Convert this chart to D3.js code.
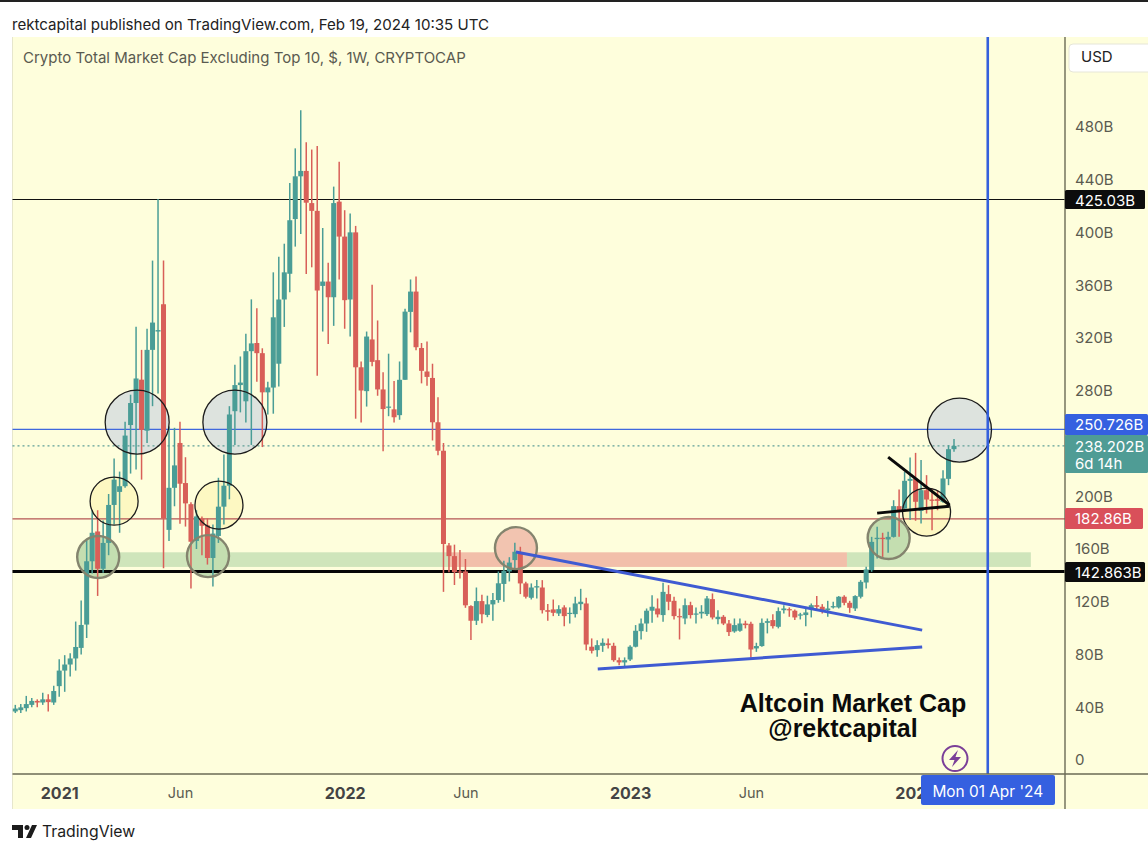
<!DOCTYPE html>
<html><head><meta charset="utf-8">
<script src="https://cdn.jsdelivr.net/npm/d3@7"></script>
<style>html,body{margin:0;padding:0;background:#fff}svg{display:block}text{font-family:Inter,"Noto Sans",sans-serif}</style>
</head><body><div id="c"></div>
<script>
const open=[36.8,37.8,39.3,41.8,44.8,43.6,46,43.6,56,67.8,72.4,77,85,102.7,150.7,173.3,145,164.6,193.4,203.3,207.6,254,270.7,288.4,249.7,311,324.9,345.6,174.5,206.4,240.4,210,194,166.1,183.2,177.9,153.2,169.9,192.1,208,264.5,284.3,272,310,316.2,308.5,278.8,
282.4,300.5,349.2,368.7,410.2,442.6,446.7,422.3,416.4,359.5,362.8,350.9,423.4,396.9,349.2,400.1,297.8,279.7,318.9,303.2,281,267.5,265.9,261.5,288.3,339.8,355.2,312.4,294.6,289.7,256.1,234.5,162.7,154.6,143,143,116.7,105.6,120.5,110,118,121.3,133.5,143,
151.6,157.1,133.9,123,130.8,130.8,113.6,114.2,111.1,115.7,111.1,110.6,118.2,118.7,85.9,83.3,86.6,88.4,86.6,75.7,74,76.2,85.9,97.7,103.5,113.2,114.9,109.9,125.8,120.7,109.1,107.3,117.4,110.4,111.1,110.6,122,106.8,108.6,103.5,97.5,98,103.5,103.3,84.6,86.4,104,106.1,101,113.6,114.4,113.2,109.6,109.9,114.9,117.4,116.2,113.6,115.7,115.7,123.8,119.2,114.9,123.8,134.6,
144,167.5,168.5,167.2,169.2,192.5,190.7,211.7,213.2,188.9,204.6,197.5,197.8,195.8,213.2,235.7];
const high=[41.8,42.4,48.6,47,46,51,49.8,56.3,76.4,79.5,81,105,121,167.7,189.4,189.4,181.6,201.7,228.6,218.7,256.5,277,328.6,311,327,378.7,425.4,378.7,252.8,251.9,256.5,229.6,195.5,189.4,184.7,183.2,178.5,214,231.7,268.3,299.8,306,323.3,349.3,342.5,312.2,286.8,
369.8,381.7,391.5,437.5,463.8,492.7,468.4,462.9,465.6,403.4,377.1,434.8,453.7,416.9,414.5,405,302.2,324.9,360.3,333.3,294,308.1,287.3,302.2,342.2,364.4,366.6,316.2,317.3,300.5,275,240.4,164.6,163.3,159.2,152.4,117.3,130.8,125.4,124.6,126.7,143,151.1,153.8,
164.7,161.7,135.1,133.9,136.4,136.4,118.2,121.7,117.4,117.4,115.7,123.8,129.8,123,92.2,90.9,92.2,92.2,88.9,77.8,77.8,87.1,102.3,107.3,114.9,125,122.5,134.4,132.6,123.8,114.9,122.5,120,115.7,117.4,124.3,126.3,113.6,109.9,106.1,107.3,107.3,105.6,104.8,88.9,107.3,107.3,110.6,115.7,117.4,115.7,114.2,111.6,116.2,118.7,124.3,118.2,120.7,120,124.3,125,120.7,125,136.4,146.5,
169.2,176.8,172.3,173,197,205.1,218.5,229.4,232.9,227.4,216,205.9,204.6,219.8,238.7,243.5];
const low=[35.6,35.6,36.8,40,40,41.8,36.8,41.8,48,51.7,63.4,67.8,80,92.5,141.4,124.4,142,155.3,178.5,172.3,206.4,217.2,220.3,212.6,240.4,268.3,278,145.4,166.1,192.4,179.1,177,130,160,155.3,148.2,131.5,164.6,178.5,197.7,238.9,263.6,255.9,238.9,286.8,237.3,262,
262.6,283.2,328.4,354.7,389.3,398.8,368.5,373.6,291.3,324.9,315.4,329.2,364.4,327,321.1,258.8,255.9,268,298.6,276.2,234.2,260.7,255.9,258,288.3,324.3,310.8,285.6,283.7,242.3,231,127.5,142.4,132.7,137.6,115.4,91,102.4,103.7,108.3,105.6,119.2,120,135.4,
145.2,125.8,122.5,121.7,122.5,111.1,105.6,109.1,109.1,101.5,103.5,108.1,113.6,83.3,80.8,78.3,82,84.6,74.5,71.9,71.2,75,85.4,91.4,97.2,104,108.1,104.8,113.6,106.6,91.4,103,107.3,103.5,107.3,109.1,106.6,103,102.3,94,96.5,97.2,99.8,77.5,82,85.9,96,99.8,99.8,111.1,108.6,106.1,106.6,101.5,108.1,113.6,111.1,108.6,114.9,114.9,117.4,111.6,112.9,122.5,130,
142.7,152.8,154,157.1,168.7,169.2,188.2,181.9,181.4,179.3,186.9,174.3,189.4,195,208.4,233.7];
const close=[39,39.9,42.4,44.8,43.6,46,43.9,52.3,67.8,72.4,77,85.7,102.4,150.7,172.3,145,164.6,193.4,212.6,207.6,246,270.7,289.3,250.3,311,331.7,326,183.2,206.4,223.4,209.5,194.6,165.5,184.7,177.6,153.2,171.7,192.1,208,262,284.3,286.2,310,315.9,308.5,278.8,282.5,
335.7,349.2,369.8,409.3,442.6,446.7,422.6,416.4,356,362.8,350.9,422.3,396.9,348.7,400.1,297.8,280.2,321.1,301.9,281,266.1,268,259.9,288.3,340,355.2,313,295.1,290.5,256.1,234.5,163.8,154.6,142.4,142.4,117.3,105.6,120.5,110.5,118,121.3,134,143.5,149.7,
157.9,133.9,123.8,130.8,131.8,113.6,112.4,111.6,114.4,109.1,111.6,118.7,120,87.6,82.8,87.1,88.9,87.1,75.7,74,75.7,85.9,98,103.5,113.2,116.2,110.4,127.5,120,109.1,108.6,117.4,109.9,111.1,112.4,122.5,108.1,108.6,103.5,97,102.3,103.5,102.3,83.8,86.4,104,105.3,101.5,112.9,114.9,113.6,108.1,110.4,111.9,117.4,116.2,112.9,114.9,116.7,123.8,119.2,115.4,124.3,135.1,144.5,
165.4,168.5,167.5,169.2,192.5,188.9,211.7,213.2,195.8,204.6,197.5,196.5,196.5,213.5,235.7,238.2];

const priceTicks=[0,40,80,120,160,200,280,320,360,400,440,480];
const timeTickWeeks=[8,30,60,82,112,134,164];
const timeTickLabels=["2021","Jun","2022","Jun","2023","Jun","2024"];
const boldTicks=["2021","2022","2023","2024"];
const markerWeek=177.15, markerLabel="Mon 01 Apr '24";
const levels=[{p:425.03,label:"425.03B"},{p:142.863,label:"142.863B"},{p:250.726,label:"250.726B"},{p:182.86,label:"182.86B"}];
const lastPrice=238.202;
const zoneGreen1=[15,79,146.4,157.5], zoneRed=[79,151.5,146.4,157.5], zoneGreen2=[151.5,185,146.4,157.5];
const trendBlue=[[91.2,157.7,165.2,98.5],[106.1,69,165.2,85.7]];
const trendBlack=[[159,229.7,170.2,193.3],[157,187.2,170.2,192.5]];
const bigCircles=[[22.2,256.2],[40,256.2],[172,250.1]];
const yellowCircles=[[18,196.3],[37.1,193.3],[166,188]];
const greenCircles=[[15.1,153.9],[35.1,154.6],[159.1,168.3]];
const redCircles=[[91.2,160.7]];

const W=1148,H=847,L=12.5,T=37,R=1065,B=774,BB=809;
const UP="#4a9d96",DN="#d85f58",BG="#fefedc";
const x=d3.scaleLinear().domain([0,171]).range([15.3,954]);
const y=d3.scaleLinear().domain([0,480]).range([760,127]);
const svg=d3.select("#c").append("svg").attr("width",W).attr("height",H);

svg.append("rect").attr("x",0).attr("y",0).attr("width",W).attr("height",2).attr("fill","#222");
svg.append("text").attr("x",12).attr("y",30).attr("font-size",15.1).attr("fill","#222").text("rektcapital published on TradingView.com, Feb 19, 2024 10:35 UTC");
svg.append("rect").attr("x",L).attr("y",T).attr("width",W-L).attr("height",BB-T).attr("fill",BG);
svg.append("line").attr("x1",L).attr("x2",L).attr("y1",T).attr("y2",BB).attr("stroke","#e6e6cc");
svg.append("text").attr("x",23).attr("y",63).attr("font-size",15).attr("fill","#5a5a50").text("Crypto Total Market Cap Excluding Top 10, $, 1W, CRYPTOCAP");

const zone=(z,c)=>svg.append("rect").attr("x",x(z[0])).attr("width",x(z[1])-x(z[0])).attr("y",y(z[3])).attr("height",y(z[2])-y(z[3])).attr("fill",c);
zone(zoneGreen1,"#cfe5bb");zone(zoneRed,"#f2bfaa");zone(zoneGreen2,"#cfe5bb");

const circFill=(data,r,f)=>svg.append("g").selectAll("circle").data(data).join("circle").attr("cx",d=>x(d[0])).attr("cy",d=>y(d[1])).attr("r",r).attr("fill",f);
circFill(bigCircles,32,"#dde3de");
circFill(yellowCircles,24,"#fdf8c2");
circFill(greenCircles,21,"#c4deb0");
circFill(redCircles,21,"#f2c4b0");

const lv=svg.append("g");
const hline=(p,c,w,dash)=>lv.append("line").attr("x1",L).attr("x2",R).attr("y1",y(p)).attr("y2",y(p)).attr("stroke",c).attr("stroke-width",w).attr("stroke-dasharray",dash||null);
hline(425.03,"#111",1.2);hline(250.726,"#3f68dd",1.3);hline(182.86,"#b55555",1.2);hline(142.863,"#050505",3);hline(lastPrice,"#5f9f98",1.2,"2 3");

const idx=d3.range(close.length);
const g=svg.append("g");
g.selectAll("line").data(idx).join("line").attr("x1",i=>x(i)).attr("x2",i=>x(i)).attr("y1",i=>y(high[i])).attr("y2",i=>y(low[i]))
 .attr("stroke",i=>close[i]>=open[i]?UP:DN).attr("stroke-width",1.5);
g.selectAll("rect").data(idx).join("rect").attr("x",i=>x(i)-2.5).attr("width",5)
 .attr("y",i=>y(Math.max(open[i],close[i]))).attr("height",i=>Math.max(1.2,Math.abs(y(open[i])-y(close[i]))))
 .attr("fill",i=>close[i]>=open[i]?UP:DN);

const circStroke=(data,r,s,w)=>svg.append("g").selectAll("circle").data(data).join("circle").attr("cx",d=>x(d[0])).attr("cy",d=>y(d[1])).attr("r",r).attr("fill","none").attr("stroke",s).attr("stroke-width",w);
circStroke(bigCircles,32,"#1c1c1c",1.3);
circStroke(yellowCircles,24,"#1c1c1c",1.3);
circStroke(greenCircles,21,"#84846e",2.4);
circStroke(redCircles,21,"#84846e",2.4);

const seg=(data,c,w)=>svg.append("g").selectAll("line").data(data).join("line").attr("x1",d=>x(d[0])).attr("y1",d=>y(d[1])).attr("x2",d=>x(d[2])).attr("y2",d=>y(d[3])).attr("stroke",c).attr("stroke-width",w);
seg(trendBlue,"#3f5bd2",3);
seg(trendBlack,"#0a0a0a",3);

svg.append("line").attr("x1",x(markerWeek)).attr("x2",x(markerWeek)).attr("y1",T).attr("y2",B).attr("stroke","#3560dc").attr("stroke-width",2.6);

svg.append("text").attr("x",853).attr("y",712).attr("text-anchor","middle").attr("font-size",25).attr("font-weight",700).attr("fill","#0b0b0b").style("font-family","'Liberation Sans',sans-serif").text("Altcoin Market Cap");
svg.append("text").attr("x",843).attr("y",737).attr("text-anchor","middle").attr("font-size",25).attr("font-weight",700).attr("fill","#0b0b0b").style("font-family","'Liberation Sans',sans-serif").text("@rektcapital");

svg.append("circle").attr("cx",955).attr("cy",758.5).attr("r",12.5).attr("fill","none").attr("stroke","#7b3f98").attr("stroke-width",2);
svg.append("path").attr("d","M958 750 L949 760 L954.5 760 L952 767 L961 757 L955.5 757 Z").attr("fill","#7b3f98");

svg.append("line").attr("x1",L).attr("x2",W).attr("y1",B).attr("y2",B).attr("stroke","#6a6a55").attr("stroke-width",1.4);
svg.append("line").attr("x1",R).attr("x2",R).attr("y1",T).attr("y2",BB).attr("stroke","#6a6a55").attr("stroke-width",1.4);

const yAxis=d3.axisRight(y).tickValues(priceTicks).tickSize(0).tickPadding(0).tickFormat(d=>d===0?"0":d+"B");
const ya=svg.append("g").attr("transform",`translate(1075,0)`).call(yAxis);
ya.select(".domain").remove();
ya.selectAll("text").attr("font-size",15).attr("fill","#5b5b50").style("font-family","Inter,sans-serif");

const xAxis=d3.axisBottom(x).tickValues(timeTickWeeks).tickSize(0).tickPadding(0).tickFormat((d,i)=>timeTickLabels[i]);
const xa=svg.append("g").attr("transform",`translate(0,788)`).call(xAxis);
xa.select(".domain").remove();
xa.selectAll("text").attr("font-size",(d,i)=>boldTicks.includes(timeTickLabels[i])?16:14.5).attr("fill",(d,i)=>boldTicks.includes(timeTickLabels[i])?"#444":"#5b5b50").attr("font-weight",(d,i)=>boldTicks.includes(timeTickLabels[i])?700:400).style("font-family","Inter,sans-serif");

svg.append("rect").attr("x",1069).attr("y",44).attr("width",90).attr("height",28).attr("rx",4).attr("fill","#fff").attr("stroke","#e6e6d8");
svg.append("text").attr("x",1081).attr("y",62).attr("font-size",15).attr("fill","#222").text("USD");

const tag=(yy,h,c,right,t,ty)=>{svg.append("rect").attr("x",R).attr("y",yy).attr("width",right-R).attr("height",h).attr("rx",1.5).attr("fill",c);
 [].concat(t).forEach((s,k)=>svg.append("text").attr("x",1075).attr("y",[].concat(ty)[k]).attr("dominant-baseline","central").attr("font-size",15).attr("fill","#fff").text(s));};
tag(190,19,"#0c0c0c",1145,levels[0].label,200);
tag(414,21,"#3560e0",1148,levels[2].label,424);
tag(435,38,"#4f9c95",1148,[lastPrice.toFixed(3)+"B","6d 14h"],[446,463]);
tag(508,21,"#d9505a",1143,levels[3].label,518);
tag(562,20,"#0c0c0c",1145,levels[1].label,572);

svg.append("rect").attr("x",921).attr("y",775).attr("width",134).attr("height",30).attr("rx",2).attr("fill","#3560e0");
svg.append("text").attr("x",x(markerWeek)).attr("y",791).attr("text-anchor","middle").attr("dominant-baseline","central").attr("font-size",15.4).attr("fill","#fff").text(markerLabel);

svg.append("path").attr("fill","#1c1c1c").attr("d","M12 825 H23 V838 H18 V830 H12 Z M32 825 L37 825 L31 838 L26 838 Z");
svg.append("circle").attr("cx",27).attr("cy",827.5).attr("r",2.5).attr("fill","#1c1c1c");
svg.append("text").attr("x",42).attr("y",837).attr("font-size",15.8).attr("fill","#1c1c1c").text("TradingView");
</script></body></html>
